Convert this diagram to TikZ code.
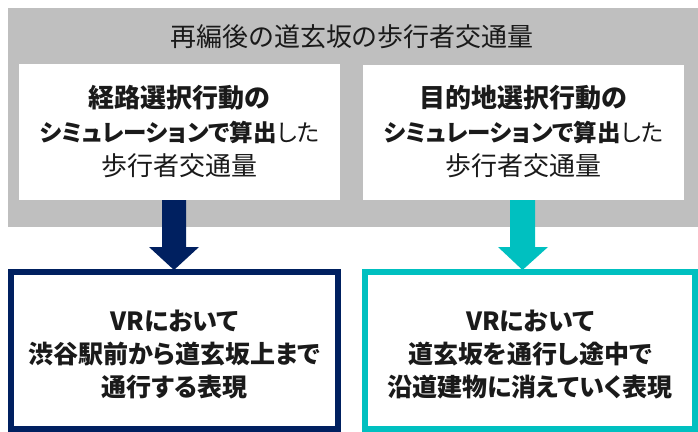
\documentclass[tikz,border=0pt]{standalone}
\usepackage{fontspec}
\setmainfont{Noto Sans CJK JP}[RawFeature=+palt]
\definecolor{grayback}{HTML}{BFBFBF}
\definecolor{navy}{HTML}{002060}
\definecolor{teal2}{HTML}{00C0C0}
\definecolor{txt}{HTML}{1A1A1A}
\newcommand{\katasize}{\fontsize{23.5}{34}\selectfont}
\begin{document}
\begin{tikzpicture}[x=1pt,y=-1pt,
  txtstyle/.style={text=txt,font=\fontsize{26}{34}\selectfont,align=center,inner sep=0pt},
  whitebox/.style={fill=white,draw=none},
  vrbox/.style={fill=white,line width=6pt},
  vrtext/.style={txtstyle,font=\bfseries\fontsize{25}{33}\selectfont},
]
\useasboundingbox (0,0) rectangle (698,431);
\fill[grayback] (8,8) rectangle (698,227);
\node[txtstyle] (title) at (352,37) {再編後の道玄坂の歩行者交通量};
\fill[whitebox] (19,64) rectangle (340,200);
\node[txtstyle] (lt) at (179.5,132) {\textbf{経路選択行動の}\\{\katasize\textbf{シミュレーションで算出}した}\\歩行者交通量};
\fill[whitebox] (363,65) rectangle (684,200);
\node[txtstyle] (rt) at (523.5,132) {\textbf{目的地選択行動の}\\{\katasize\textbf{シミュレーションで算出}した}\\歩行者交通量};
% arrows
\fill[navy] (162,200) -- (186,200) -- (186,247) -- (199,247) -- (174,270) -- (149,247) -- (162,247) -- cycle;
\fill[teal2] (510,200) -- (535,200) -- (535,247) -- (548,247) -- (522.5,270) -- (498,247) -- (510,247) -- cycle;
% bottom boxes
\draw[vrbox,draw=navy] (11,272) rectangle (338,429);
\node[vrtext] (lv) at (174.5,355) {VRにおいて\\渋谷駅前から道玄坂上まで\\通行する表現};
\draw[vrbox,draw=teal2] (365,272) rectangle (695,429);
\node[vrtext] (rv) at (530,355) {VRにおいて\\道玄坂を通行し途中で\\沿道建物に消えていく表現};
\end{tikzpicture}
\end{document}
